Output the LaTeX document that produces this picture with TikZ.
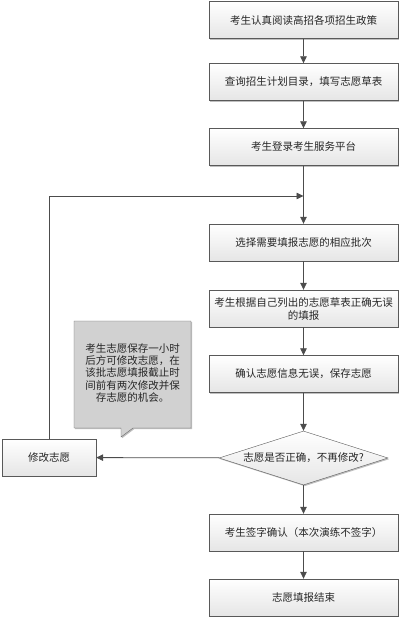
\documentclass[tikz,border=0pt]{standalone}
\usepackage{fontspec}
\setmainfont{Noto Sans CJK SC}
\usetikzlibrary{shapes.geometric,shadows,arrows.meta}

\tikzset{
  stepbox/.style={draw=black!65, top color=white, bottom color=black!10,
    minimum width=189pt, minimum height=37pt, inner sep=1pt, align=center,
    font=\fontsize{10.5}{13}\selectfont, text=black!85,
    drop shadow={shadow xshift=1.2pt, shadow yshift=-1.2pt, fill=black!50, opacity=0.5}},
  flow/.style={draw=black!70, line width=0.8pt, -{Triangle[width=6.5pt,length=7pt]}},
}

\begin{document}
\begin{tikzpicture}[x=1pt, y=-1pt]
          \useasboundingbox (0,0) rectangle (404,620);

          % main steps
          \foreach \name/\y/\txt in {1/20/考生认真阅读高招各项招生政策,
                                     2/82/查询招生计划目录，填写志愿草表,
                                     3/147/考生登录考生服务平台,
                                     4/242.5/选择需要填报志愿的相应批次,
                                     5/308.5/{考生根据自己列出的志愿草表正确无误\\的填报},
                                     6/374/确认志愿信息无误，保存志愿,
                                     7/532.5/考生签字确认（本次演练不签字）,
                                     8/597.5/志愿填报结束}{
            \node[stepbox] (b\name) at (303.5,\y) {\txt};
          }

          \node[diamond, draw=black!65, top color=white, bottom color=black!10,
                minimum width=169pt, minimum height=54pt, inner sep=0pt, aspect=3.1,
                font=\fontsize{10.5}{13}\selectfont, text=black!85,
                drop shadow={shadow xshift=1.2pt, shadow yshift=-1.2pt, fill=black!50, opacity=0.5}]
                (check) at (303.5,458) {志愿是否正确，不再修改?};

          \node[stepbox, minimum width=94pt] (modify) at (49,457.5) {修改志愿};

          \coordinate (join) at (303.5,196);

          % note with pointer
          \begin{scope}
            \draw[draw=black!60, fill=black!18,
                  drop shadow={shadow xshift=1.2pt, shadow yshift=-1.2pt, fill=black!50, opacity=0.5}]
              (74,321) -- (191,321) -- (191,428) -- (133,428) -- (121,437) -- (121,428) -- (74,428) -- cycle;
            \node[align=center, font=\fontsize{10.5}{12.2}\selectfont, text=black!85]
              (note) at (132.5,373) {考生志愿保存一小时\\后方可修改志愿，在\\该批志愿填报截止时\\间前有两次修改并保\\存志愿的机会。};
          \end{scope}

          \foreach \a/\b in {b1/b2,b2/b3,b3/b4,b4/b5,b5/b6,b6/check,check/b7,b7/b8}{
            \draw[flow] (\a) -- (\b);
          }
          \draw[flow] (check) -- (modify);
          \draw[flow] (modify.north) |- (join);
\end{tikzpicture}
\end{document}
